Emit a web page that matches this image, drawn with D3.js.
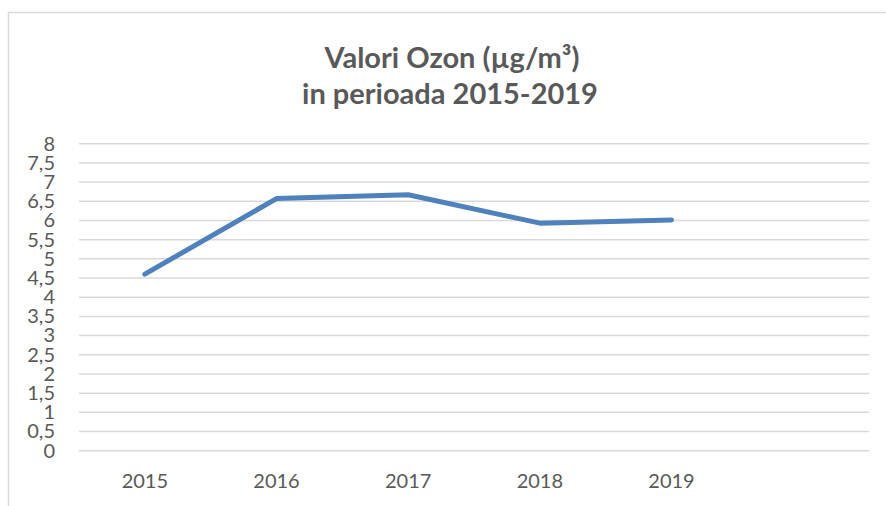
<!DOCTYPE html>
<html>
<head>
<meta charset="utf-8">
<script src="https://cdn.jsdelivr.net/npm/d3@7"></script>
<style>
    body { margin: 0; background: #fff; }
</style>
</head>
<body>
<div id="chart"></div>
<script>
// data
var years = ['2015', '2016', '2017', '2018', '2019', ''];
var ozon = [4.6, 6.57, 6.67, 5.93, 6.01];
var yTicks = [0, 0.5, 1, 1.5, 2, 2.5, 3, 3.5, 4, 4.5, 5, 5.5, 6, 6.5, 7, 7.5, 8];
var titleLines = ['Valori Ozon (\u00b5g/m\u00b3)', 'in perioada 2015-2019'];

var fullWidth = 886;
var fullHeight = 506;
var mainFont = 'Lato, "Open Sans", sans-serif';
var textColor = '#595959';
var gridColor = '#d9d9d9';
var lineColor = '#4f81bd';

var plot = { left: 79, right: 869, top: 143.7, bottom: 450.7 };

window.onload = function() {
    render();
};

function render() {
    var svg = d3.select('#chart').append('svg')
        .attr('width', fullWidth)
        .attr('height', fullHeight);

    // chart frame (only top/left edges are visible in the crop)
    svg.append('rect')
        .attr('x', 8.5)
        .attr('y', 12.5)
        .attr('width', fullWidth + 20)
        .attr('height', fullHeight + 20)
        .attr('fill', '#fff')
        .attr('stroke', gridColor)
        .attr('stroke-width', 1.5);

    // title
    svg.append('text')
        .attr('x', 452)
        .attr('y', 68)
        .style('text-anchor', 'middle')
        .style('font-family', mainFont)
        .style('font-weight', 'bold')
        .style('font-size', '29px')
        .style('fill', textColor)
        .text(titleLines[0]);
    svg.append('text')
        .attr('x', 450)
        .attr('y', 104)
        .style('text-anchor', 'middle')
        .style('font-family', mainFont)
        .style('font-weight', 'bold')
        .style('font-size', '29px')
        .style('fill', textColor)
        .text(titleLines[1]);

    var x = d3.scaleBand()
        .domain(years)
        .range([plot.left, plot.right]);

    var y = d3.scaleLinear()
        .domain([0, 8])
        .range([plot.bottom, plot.top]);

    // horizontal gridlines
    svg.append('g')
        .selectAll('line')
        .data(yTicks)
        .enter().append('line')
        .attr('x1', plot.left)
        .attr('x2', plot.right)
        .attr('y1', function(d) { return y(d); })
        .attr('y2', function(d) { return y(d); })
        .attr('stroke', gridColor)
        .attr('stroke-width', 1.5);

    // y axis labels
    var yAxis = d3.axisLeft(y)
        .tickValues(yTicks)
        .tickSize(0)
        .tickPadding(0)
        .tickFormat(function(d) { return String(d).replace('.', ','); });
    var gy = svg.append('g')
        .attr('transform', 'translate(' + 55 + ',0)')
        .call(yAxis);
    gy.select('.domain').remove();
    gy.selectAll('text')
        .style('font-family', mainFont)
        .style('font-size', '20px')
        .style('fill', textColor);

    // x axis labels
    var xAxis = d3.axisBottom(x)
        .tickSize(0)
        .tickPadding(0);
    var gx = svg.append('g')
        .attr('transform', 'translate(0,' + 474 + ')')
        .call(xAxis);
    gx.select('.domain').remove();
    gx.selectAll('text')
        .style('font-family', mainFont)
        .style('font-size', '20px')
        .style('fill', textColor);

    // the line
    var line = d3.line()
        .x(function(d, i) { return x(years[i]) + x.bandwidth() / 2; })
        .y(function(d) { return y(d); });

    svg.append('path')
        .datum(ozon)
        .attr('d', line)
        .attr('fill', 'none')
        .attr('stroke', lineColor)
        .attr('stroke-width', 5)
        .attr('stroke-linecap', 'round')
        .attr('stroke-linejoin', 'round');
}
</script>
</body>
</html>
